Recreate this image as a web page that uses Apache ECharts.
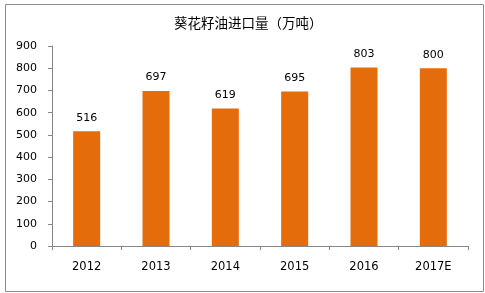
<!DOCTYPE html>
<html><head><meta charset="utf-8">
<script src="https://cdn.jsdelivr.net/npm/echarts@6/dist/echarts.min.js"></script>
<style>html,body{margin:0;padding:0;background:#fff}#c{width:485px;height:293px}</style>
</head><body><div id="c"></div>
<script>
const categories = ['2012','2013','2014','2015','2016','2017E'];
const values = [516, 697, 619, 695, 803, 800];
const titleText = '葵花籽油进口量（万吨）';
const chart = echarts.init(document.getElementById('c'));
chart.setOption({
  animation: false,
  backgroundColor: '#fff',
  title: { text: titleText, left: 169, top: 11,
    textStyle: { fontSize: 13.5, fontWeight: 'normal', color: '#000', fontFamily: 'Noto Sans CJK SC' } },
  graphic: [{ type: 'rect', left: 3, top: 2, shape: { width: 478, height: 287 },
    style: { fill: 'none', stroke: '#8c8c8c', lineWidth: 1 }, silent: true }],
  grid: { left: 52, right: 17, top: 46, bottom: 47 },
  xAxis: { type: 'category', data: categories,
    axisLine: { lineStyle: { color: '#868686' } },
    axisTick: { show: true, length: 4, lineStyle: { color: '#868686' } },
    axisLabel: { margin: 15, fontSize: 11.5, color: '#000', fontFamily: 'DejaVu Sans' } },
  yAxis: { type: 'value', min: 0, max: 900, interval: 100,
    axisLine: { show: true, lineStyle: { color: '#868686' } },
    axisTick: { show: true, length: 4, lineStyle: { color: '#868686' } },
    splitLine: { show: false },
    axisLabel: { margin: 15, fontSize: 11, color: '#000', fontFamily: 'DejaVu Sans' } },
  series: [{ type: 'bar', data: values, barWidth: 27,
    itemStyle: { color: '#E46C0A' },
    label: { show: true, position: 'top', distance: 8, fontSize: 11, color: '#000', fontFamily: 'DejaVu Sans' } }]
});
</script></body></html>
